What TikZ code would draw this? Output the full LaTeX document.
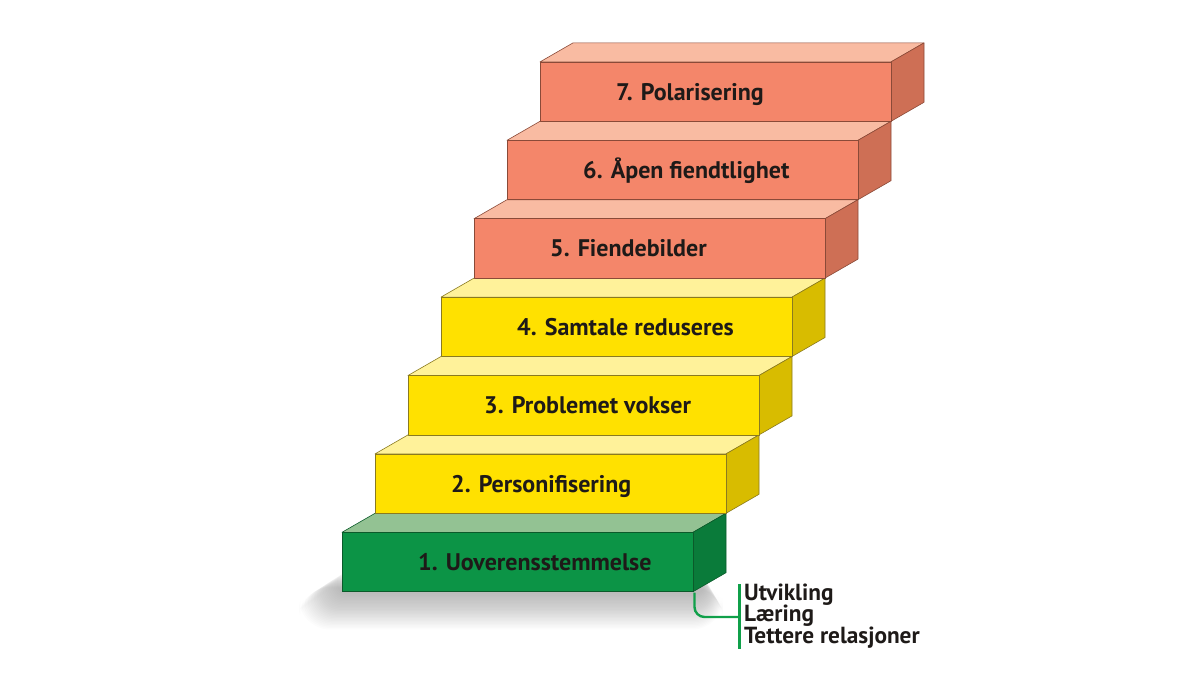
\documentclass[tikz,border=0pt]{standalone}
\usepackage{fontspec}
\setmainfont{PT Sans}
\definecolor{gfront}{HTML}{0C9446}
\definecolor{gtop}{HTML}{93C293}
\definecolor{gside}{HTML}{0A7B3A}
\definecolor{gline}{HTML}{0B5A2A}
\definecolor{yfront}{HTML}{FFE100}
\definecolor{ytop}{HTML}{FFF29A}
\definecolor{yside}{HTML}{D8BC00}
\definecolor{yline}{HTML}{8A7A20}
\definecolor{rfront}{HTML}{F4866A}
\definecolor{rtop}{HTML}{F9BBA2}
\definecolor{rside}{HTML}{CE6F55}
\definecolor{rline}{HTML}{8A4A38}
\definecolor{txt}{HTML}{1E1A18}
\definecolor{annog}{HTML}{10A04A}
\begin{document}
\begin{tikzpicture}[x=1pt,y=-1pt,
  steplabel/.style={anchor=base west, inner sep=0pt, font=\fontsize{24}{28}\selectfont\bfseries, text=txt},
  annolabel/.style={anchor=base west, inner sep=0pt, font=\fontsize{23.3}{26}\selectfont\bfseries, text=txt},
  edge/.style={line width=0.6pt, line join=round}]
\useasboundingbox (0,0) rectangle (1200,675);
% soft shadow under the first step
\foreach \k in {1,...,26}{
  \fill[black, opacity=0.011, rounded corners={10pt+\k*0.8pt}] ({338-\k*1.5}, {572+\k*0.6}) rectangle ({705+\k*0.7}, {593+\k*1.4});
}
% steps
\foreach \i/\f/\t/\s/\l/\lab in {
  0/gfront/gtop/gside/gline/{1. Uoverensstemmelse},
  1/yfront/ytop/yside/yline/{2. Personifisering},
  2/yfront/ytop/yside/yline/{3. Problemet vokser},
  3/yfront/ytop/yside/yline/{4. Samtale reduseres},
  4/rfront/rtop/rside/rline/{5. Fiendebilder},
  5/rfront/rtop/rside/rline/{6. Åpen fiendtlighet},
  6/rfront/rtop/rside/rline/{7. Polarisering}}{
  \pgfmathsetmacro{\L}{342+33*\i}
  \pgfmathsetmacro{\T}{532.3-78.4*\i}
  \filldraw[fill=\t, draw=\l, edge] (\L,\T) -- ({\L+33},{\T-19}) -- ({\L+384},{\T-19}) -- ({\L+351},\T) -- cycle;
  \filldraw[fill=\s, draw=\l, edge] ({\L+351},\T) -- ({\L+384},{\T-19}) -- ({\L+384},{\T+40.4}) -- ({\L+351},{\T+59.4}) -- cycle;
  \filldraw[fill=\f, draw=\l, edge] (\L,\T) rectangle ({\L+351},{\T+59.4});
  \node[steplabel] (s\i) at ({\L+76},{\T+38.2}) {\lab};
}
% annotation
\coordinate (c1) at (694.5,592.5);
\coordinate (bt) at (739.5,584);
\coordinate (bb) at (739.5,649);
\draw[annog, line width=2.4pt, rounded corners=10pt] (c1) -- (694.5,617) -- (739.5,617);
\draw[annog, line width=3.4pt] (bt) -- (bb);
\node[annolabel] (a1) at (744,600) {Utvikling};
\node[annolabel] (a2) at (744,621.5) {Læring};
\node[annolabel] (a3) at (744,643) {Tettere relasjoner};
\end{tikzpicture}
\end{document}
